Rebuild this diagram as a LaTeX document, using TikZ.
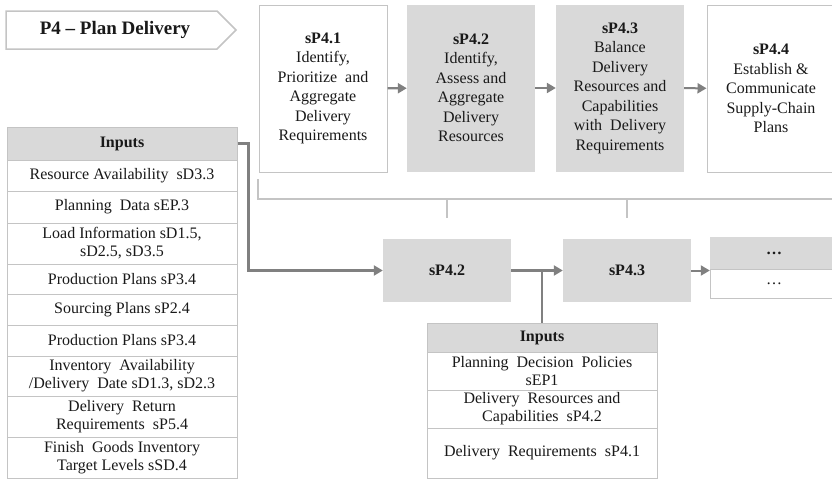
\documentclass[tikz,border=0pt]{standalone}
\usepackage{fontspec}
\setmainfont{Liberation Serif}
\usetikzlibrary{arrows.meta}
\definecolor{boxgray}{HTML}{D9D9D9}
\definecolor{lineg}{HTML}{C4C4C4}
\definecolor{arrg}{HTML}{808080}

\begin{document}
\begin{tikzpicture}[x=1pt,y=-1pt,>={Triangle[length=9pt,width=10pt]},
	txt/.style={font=\fontsize{16}{19.5}\selectfont,align=center,text=black!90},
	proc/.style={txt,minimum width=128pt,minimum height=167pt,inner sep=0pt},
	cell/.style={txt,font=\fontsize{16}{18}\selectfont,draw=lineg,line width=1pt,fill=white,minimum width=230pt,inner sep=0pt},
	head/.style={cell,fill=boxgray,font=\fontsize{16}{18}\selectfont\bfseries},
	sub/.style={txt,fill=boxgray,minimum width=128pt,minimum height=63pt,font=\fontsize{16}{19}\selectfont\bfseries},
	flow/.style={arrg,line width=2.4pt,->},
	rule/.style={lineg,line width=1.5pt}]
	  \useasboundingbox (0,0) rectangle (832,479);
	  \draw[lineg,line width=1.5pt,fill=white] (6,11) -- (217,11) -- (236,30) -- (217,49) -- (6,49) -- cycle;
	  \node[txt,font=\fontsize{19}{22}\selectfont\bfseries] (title) at (115,30) {P4 – Plan Delivery};
	  \node[proc,draw=lineg,line width=1pt] (s41) at (323,88.5) {\textbf{sP4.1}\\Identify,\\Prioritize~ and\\Aggregate\\Delivery\\Requirements};
	  \node[proc,fill=boxgray] (s42) at (471,88) {\textbf{sP4.2}\\Identify,\\Assess and\\Aggregate\\Delivery\\Resources};
	  \node[proc,fill=boxgray] (s43) at (620,88) {\textbf{sP4.3}\\Balance\\Delivery\\Resources and\\Capabilities\\with~ Delivery\\Requirements};
	  \node[proc,draw=lineg,line width=1pt] (s44) at (771,88.5) {\textbf{sP4.4}\\Establish \&\\Communicate\\Supply-Chain\\Plans};
	  \draw[flow] (s41) -- (s42);
	  \draw[flow] (s42) -- (s43);
	  \draw[flow,line width=2pt] (s43) -- (s44);
	  \coordinate (br) at (258,179);
	  \coordinate (brend) at (840,199);
	  \coordinate (tk) at (0,218);
	  \draw[rule] (br) |- (brend);
	  \node[head,minimum height=33pt] (in1) at (122,143.5) {Inputs};
	  \node[cell,minimum height=31pt] (a1) at (122,175.5) {Resource Availability~~sD3.3};
	  \node[cell,minimum height=32pt] (a2) at (122,207) {Planning~ Data sEP.3};
	  \node[cell,minimum height=41pt] (a3) at (122,243.5) {Load Information sD1.5,\\sD2.5, sD3.5};
	  \node[cell,minimum height=30pt] (a4) at (122,279) {Production Plans sP3.4};
	  \node[cell,minimum height=31pt] (a5) at (122,309.5) {Sourcing Plans sP2.4};
	  \node[cell,minimum height=31pt] (a6) at (122,340.5) {Production Plans sP3.4};
	  \node[cell,minimum height=40pt] (a7) at (122,376) {Inventory~ Availability\\/Delivery~ Date sD1.3, sD2.3};
	  \node[cell,minimum height=41pt] (a8) at (122,416.5) {Delivery~ Return\\Requirements~ sP5.4};
	  \node[cell,minimum height=41pt] (a9) at (122,457.5) {Finish~ Goods Inventory\\Target Levels sSD.4};
	  \node[sub] (b42) at (447,270.5) {sP4.2};
	  \node[sub] (b43) at (627,270.5) {sP4.3};
	  \node[sub,minimum height=32pt,font=\fontsize{16}{19}\selectfont\bfseries] (more1) at (774,253) {…};
	  \node[txt,draw=lineg,line width=1pt,fill=white,minimum width=128pt,minimum height=29pt,inner sep=0pt] (more2) at (774,283.5) {…};
	  \draw[rule] (b42.north |- brend) -- (b42.north |- tk);
	  \draw[rule] (b43.north |- brend) -- (b43.north |- tk);
	  \node[head,minimum height=29pt] (in2) at (542,337.5) {Inputs};
	  \node[cell,minimum height=38pt] (c1) at (542,371) {Planning~ Decision~ Policies\\sEP1};
	  \node[cell,minimum height=38pt] (c2) at (542,409) {Delivery~ Resources and\\Capabilities~ sP4.2};
	  \node[cell,minimum height=50pt] (c3) at (542,453) {Delivery~ Requirements~ sP4.1};
	  \draw[flow] (in1.east) -- ++(11,0) |- (b42.west);
	  \draw[flow] (b42) -- (b43);
	  \draw[arrg,line width=2.4pt] (in2.north) -- (in2.north |- b42.east);
	  \draw[flow,line width=2pt] (b43.east) -- (b43.east -| more1.south west);
	\end{tikzpicture}
\end{document}
